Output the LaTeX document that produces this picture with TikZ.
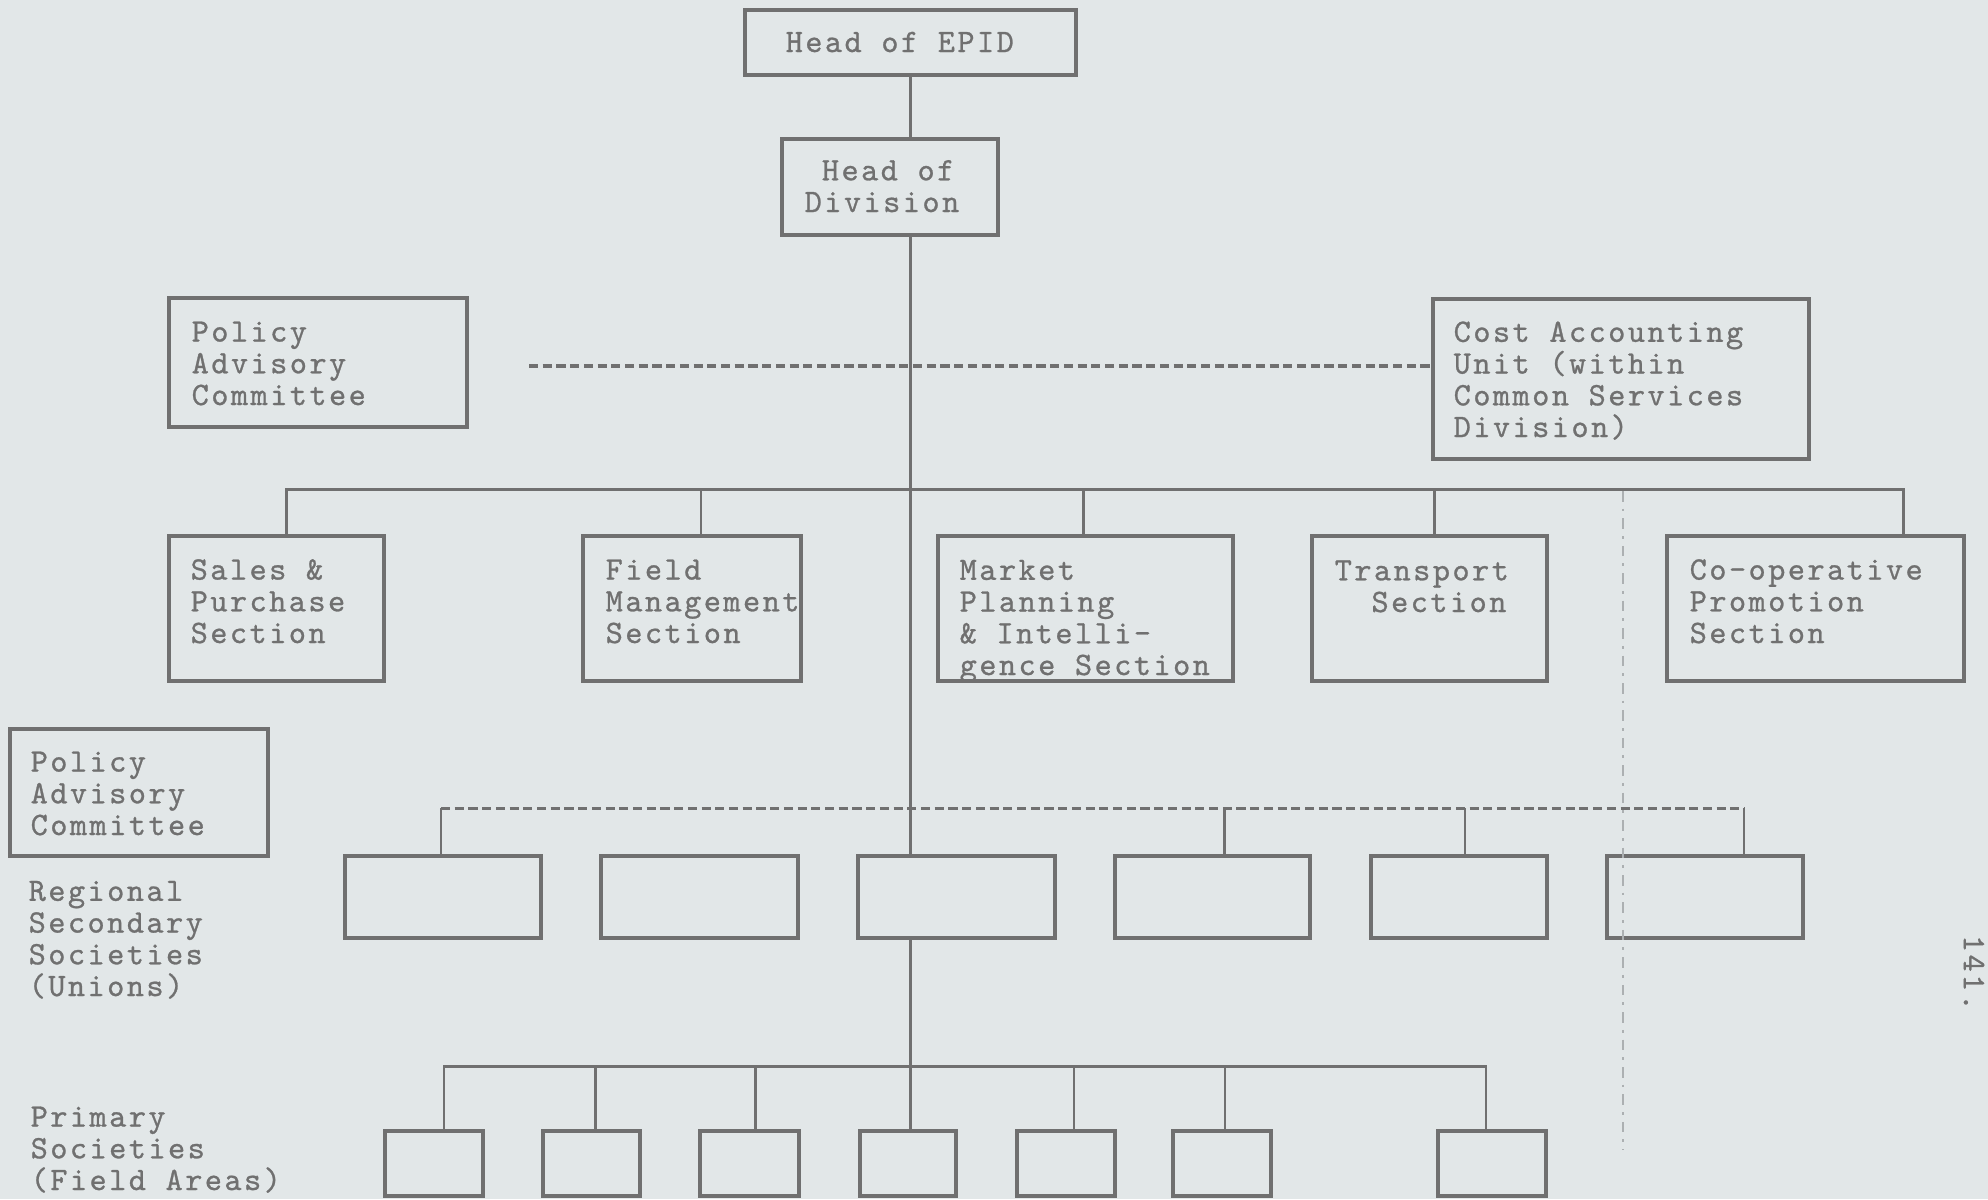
\documentclass[tikz,border=0pt]{standalone}
\usepackage{fontspec}
\newfontfamily\typew{lmmono10-regular.otf}[LetterSpace=7.5, FakeBold=0.8]
\usetikzlibrary{positioning, calc, fit}

\definecolor{paper}{RGB}{226,231,232}
\definecolor{ink}{RGB}{112,112,112}
\definecolor{rulegray}{RGB}{172,176,178}
\newcommand\chartfont{\typew\fontsize{9.3}{9.02}\selectfont}

\begin{document}
\begin{tikzpicture}[
    x=0.01cm, y=-0.01cm,
    font=\chartfont,
    % --- box and line styles ---
    box/.style      = {draw=ink, line width=1pt, inner sep=0pt},
    txt/.style      = {text=ink, align=left, inner sep=0pt, anchor=base west},
    link/.style     = {draw=ink, line width=0.8pt},
    dashlink/.style = {draw=ink, line width=0.9pt, dash pattern=on 2.6pt off 1.3pt},
    faint/.style    = {draw=rulegray, line width=0.6pt, dash pattern=on 3pt off 2pt on 0.8pt off 2pt}
]

% sheet
\fill[paper] (0,0) rectangle (1988,1199);
\useasboundingbox (0,0) rectangle (1988,1199);

% ===================== TOP LEVEL =====================
\node[box, fit={(745,10)(1076,75)}]    (epid) {};
\node[box, fit={(782,139)(998,235)}]   (div)  {};
\node[box, fit={(169,298)(467,427)}]   (pac)  {};
\node[box, fit={(1433,299)(1809,459)}] (cost) {};

% (text nodes sit on the baseline of their last line)
\node[txt] (epidT) at (785,52)   {Head of EPID};
\node[txt] (divT)  at (804,212)  {\hphantom{D}Head of\\Division};
\node[txt] (pacT)  at (191,405)  {Policy\\Advisory\\Committee};
\node[txt] (costT) at (1453,437) {Cost Accounting\\Unit (within\\Common Services\\Division)};

% ===================== SECTIONS =====================
\foreach \n/\xa/\xb in {sales/169/384, field/583/801, market/938/1233, trans/1312/1547, coop/1667/1964}
    \node[box, fit={(\xa,536)(\xb,681)}] (\n) {};

\node[txt] (salesT)  at (190,643)  {Sales \&\\Purchase\\Section};
\node[txt] (fieldT)  at (605,643)  {Field\\Management\\Section};
\node[txt] (marketT) at (959,675)  {Market\\Planning\\\& Intelli-\\gence Section};
\node[txt] (transT)  at (1334,612) {Transport\\\hphantom{Tr}Section};
\node[txt] (coopT)   at (1689,643) {Co-operative\\Promotion\\Section};

% ===================== REGIONAL / PRIMARY =====================
\node[box, fit={(10,729)(268,856)}] (pac2) {};
\node[txt] (pac2T) at (30,835)  {Policy\\Advisory\\Committee};
\node[txt] (regT)  at (28,996)  {Regional\\Secondary\\Societies\\(Unions)};
\node[txt] (primT) at (30,1190) {Primary\\Societies\\(Field Areas)};

\foreach \i/\xa/\xb in {1/345/541, 2/601/798, 3/858/1055, 4/1115/1310, 5/1371/1547, 6/1607/1803}
    \node[box, fit={(\xa,856)(\xb,938)}] (reg\i) {};

\foreach \i/\xa/\xb in {1/385/483, 2/543/640, 3/700/799, 4/860/956, 5/1017/1115, 6/1173/1271, 7/1438/1546}
    \node[box, fit={(\xa,1131)(\xb,1196)}] (prim\i) {};

\node[txt, rotate=-90, anchor=center] (pageno) at (1974,973) {141.};

% ===================== CONNECTORS =====================
% main trunk
\draw[link] (epid.south) -- (epid.south |- div.north);
\draw[link] (epid.south |- div.south) -- (epid.south |- reg3.north);
\draw[link] (epid.south |- reg3.south) -- (epid.south |- prim4.north);

% advisory line
\coordinate (advL) at (529,366);
\draw[dashlink] (advL) -- (advL -| cost.west);

% section bus
\draw[link] ($(sales.north)+(10,0)$) |- ($(coop.north)+(88,-45)$) -- ($(coop.north)+(88,0)$);
\foreach \n/\dx in {field/9, market/-2, trans/5}
    \draw[link] ($(\n.north)+(\dx,0)$) -- ++(0,-45);

% regional bus (dashed)
\draw[dashlink] ($(reg1.north)+(-2,-46)$) -- ($(reg6.north)+(39,-46)$);
\foreach \i/\dx in {1/-2, 4/12, 5/6, 6/39}
    \draw[link] ($(reg\i.north)+(\dx,0)$) -- ++(0,-46);

% primary bus
\draw[link] ($(prim1.north)+(10,0)$) |- ($(prim7.north)+(-6,-63)$) -- ($(prim7.north)+(-6,0)$);
\foreach \i/\dx in {2/4, 3/6, 5/8, 6/3}
    \draw[link] ($(prim\i.north)+(\dx,0)$) -- ++(0,-63);

% stray ruling
\draw[faint] (1623,491) -- (1623,1150);

\end{tikzpicture}
\end{document}
